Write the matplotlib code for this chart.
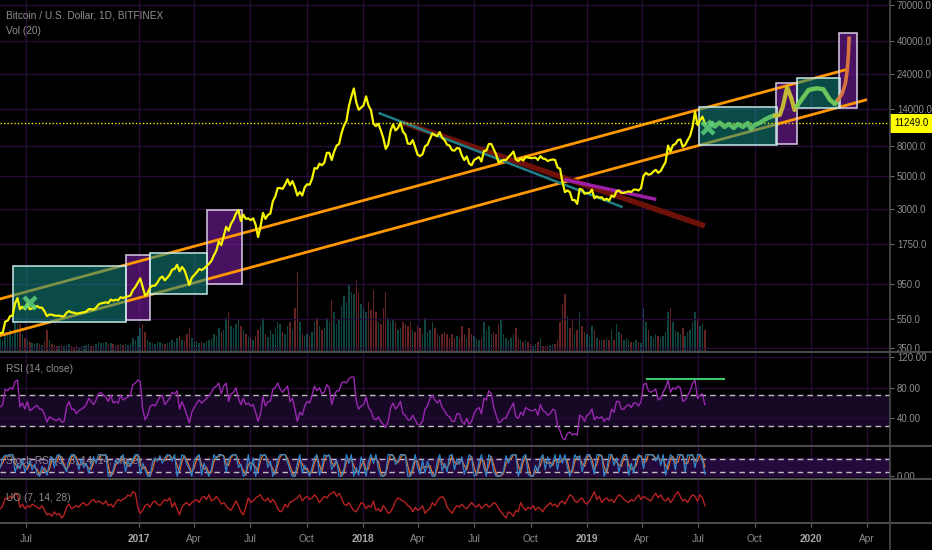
import matplotlib
matplotlib.use("Agg")
import matplotlib.pyplot as plt
import matplotlib.ticker as mticker
import pandas as pd
from matplotlib.lines import Line2D
from matplotlib.patches import Rectangle
import matplotlib.dates as mdates

plt.rcParams['font.family'] = ['Liberation Sans', 'DejaVu Sans']

# ---- series, one sample every 4 days from 2016-05-20 ----
start = '2016-05-20'
price = [
    442, 446, 528,
    536, 575, 580, 700, 760, 640, 665, 640,
    700, 640, 648, 665, 672, 655, 655, 620,
    575, 590, 588, 580, 578, 580, 572,
    575, 605, 622, 608, 607, 597, 601, 606,
    610, 617, 641, 640, 636, 655, 688, 700,
    705, 712, 705, 742, 730, 740, 735,
    770, 760, 772, 780, 790, 860, 900, 960,
    # 2017
    1030, 900, 790, 820, 895, 920, 920, 965,
    1030, 1060, 1000, 1040, 1090, 1180, 1190,
    1270, 1150, 1230, 1170, 1050, 930, 1040,
    1085, 1130, 1190, 1170, 1200, 1245, 1290, 1350,
    1470, 1580, 1820, 1720, 1980, 2280, 2150, 2400,
    2550, 2800, 2950, 2500, 2750, 2580, 2600,
    2530, 2600, 2360, 1950, 2290, 2830, 2580, 2740,
    2800, 3380, 3640, 4150, 4150, 4100, 4380, 4750,
    4350, 4620, 4200, 3700, 3900, 3700, 4200,
    4400, 4370, 4800, 5650, 5600, 6050, 5900, 6150,
    7150, 7150, 6400, 7300, 8000, 8200, 9700,
    10900, 11700, 14700, 17000, 19300, 15600, 13900, 14400,
    # 2018
    14900, 17100, 14800, 13800, 11200, 10800, 11200, 10100,
    9000, 7600, 8100, 10100, 11100, 10100, 10500,
    11400, 9900, 9500, 8250, 8200, 8700, 7800, 6930,
    6800, 7000, 7900, 8100, 8850, 9650, 9400,
    9250, 9850, 9000, 8700, 8100, 8000, 7450, 7400,
    7700, 7650, 6850, 6400, 6750, 6050, 5900,
    6400, 6550, 6700, 6250, 7350, 7400, 8200, 8200,
    7550, 6950, 6150, 6300, 6400, 6400, 6700, 6950,
    7300, 6450, 6300, 6550, 6350, 6700, 6650,
    6600, 6600, 6650, 6400, 6800, 6550, 6500, 6300,
    6400, 6450, 6400, 5700, 5600, 4550, 3900, 4000,
    3900, 3450, 3450, 3250, 4100, 4050, 3800,
    # 2019
    3850, 3850, 4050, 3550, 3650, 3580, 3600, 3450,
    3520, 3420, 3700, 3620, 3950, 4000, 3850,
    3850, 3900, 3950, 3900, 4050, 4050, 4000, 4150,
    5000, 5250, 5100, 5150, 5350, 5500, 5250,
    5400, 5800, 6200, 8000, 7300, 8050, 8200, 8700,
    8800, 7850, 8100, 8700, 9300, 10700, 13500, 11000,
    11800, 12500, 11249,
]
volume = [
    14, 12, 20,
    18, 22, 16, 30, 35, 28, 18, 14,
    12, 10, 9, 8, 9, 8, 7, 10,
    22, 12, 8, 7, 6, 6, 7,
    6, 7, 8, 6, 5, 6, 5, 6,
    6, 7, 8, 6, 6, 8, 10, 9,
    9, 10, 8, 9, 8, 7, 7,
    8, 7, 8, 7, 9, 14, 12, 16,
    24, 28, 20, 12, 10, 9, 8, 10,
    10, 9, 8, 9, 10, 12, 10,
    14, 16, 12, 11, 18, 24, 14,
    10, 11, 9, 10, 9, 11, 12, 14,
    18, 16, 24, 20, 22, 34, 40, 26,
    24, 28, 32, 26, 22, 18, 16,
    14, 12, 16, 22, 26, 34, 18, 15,
    22, 18, 24, 30, 28, 20, 18, 26,
    30, 22, 44, 80, 30, 18, 16,
    18, 16, 20, 30, 34, 26, 22, 24,
    34, 30, 52, 40, 28, 32, 46,
    56, 50, 68, 60, 58, 72, 60, 48,
    44, 40, 50, 42, 62, 40, 30, 28,
    44, 60, 34, 30, 32, 30, 22,
    24, 30, 28, 26, 30, 22, 20, 26,
    24, 18, 34, 20, 22, 30, 24,
    18, 16, 18, 20, 18, 14, 18, 14,
    16, 14, 26, 18, 14, 24, 18,
    16, 14, 12, 14, 30, 22, 26, 18,
    20, 18, 28, 32, 18, 14, 12, 14,
    18, 24, 14, 12, 10, 12, 10,
    8, 6, 8, 10, 14, 6, 6, 6,
    7, 8, 8, 12, 30, 48, 58, 36,
    24, 32, 18, 22, 40, 26, 20,
    18, 16, 26, 22, 14, 12, 12, 12,
    14, 12, 22, 12, 28, 20, 18,
    12, 14, 12, 10, 10, 12, 10, 9,
    44, 30, 22, 16, 14, 18, 16,
    14, 16, 20, 40, 44, 30, 22, 20,
    18, 24, 16, 20, 22, 30, 40, 34,
    26, 28, 22,
]
rsi = [
    55, 58, 78,
    76, 80, 78, 88, 90, 55, 60, 52,
    62, 50, 52, 55, 57, 52, 52, 45,
    35, 42, 40, 38, 37, 40, 35,
    36, 55, 62, 52, 52, 46, 50, 52,
    54, 58, 66, 62, 58, 64, 72, 74,
    70, 68, 62, 70, 60, 62, 60,
    70, 64, 66, 68, 70, 84, 86, 90,
    88, 52, 38, 44, 55, 58, 56, 62,
    68, 70, 58, 62, 66, 74, 72,
    76, 52, 62, 54, 44, 34, 48,
    54, 60, 64, 60, 63, 66, 70, 74,
    80, 82, 86, 72, 82, 86, 62, 72,
    74, 80, 66, 58, 66, 58, 60,
    56, 58, 48, 36, 46, 68, 56, 62,
    62, 78, 80, 86, 78, 74, 78, 82,
    62, 66, 52, 36, 48, 44, 56,
    62, 60, 70, 82, 76, 80, 72, 74,
    84, 80, 58, 70, 76, 76, 86,
    88, 86, 92, 94, 94, 62, 52, 56,
    58, 68, 54, 50, 40, 38, 42, 36,
    32, 28, 36, 54, 60, 52, 56,
    62, 46, 44, 38, 38, 44, 38, 32,
    32, 36, 52, 56, 66, 70, 64,
    60, 64, 54, 50, 44, 42, 36, 36,
    46, 46, 36, 32, 40, 32, 36,
    46, 52, 54, 46, 66, 64, 76, 72,
    54, 44, 34, 36, 40, 40, 48, 54,
    60, 42, 40, 48, 44, 54, 52,
    50, 50, 52, 44, 58, 50, 48, 44,
    46, 52, 50, 30, 24, 14, 12, 20,
    22, 18, 20, 18, 44, 42, 36,
    44, 46, 52, 38, 42, 40, 42, 36,
    40, 38, 52, 48, 62, 62, 52,
    52, 56, 58, 54, 60, 60, 56, 62,
    84, 86, 76, 74, 76, 78, 64,
    66, 74, 80, 90, 74, 80, 78, 82,
    80, 62, 64, 70, 76, 86, 90, 66,
    70, 72, 58,
]
stoch_k = [
    40, 85, 98, 95, 100, 100, 20, 55, 35, 80, 20, 45, 70, 30, 55, 10,
    0, 45, 30, 5, 60, 90, 40, 95, 100, 60, 45, 20, 80, 100, 100, 75,
    30, 80, 40, 60, 15, 50, 90, 60, 100, 100, 95, 100, 0, 0, 30, 75,
    60, 85, 100, 20, 70, 45, 80, 100, 100, 10, 60, 30, 0, 0, 65, 85,
    70, 95, 60, 85, 100, 95, 70, 100, 0, 40, 100, 90, 55, 35, 0, 75,
    90, 100, 5, 60, 25, 0, 35, 100, 80, 100, 100, 90, 20, 80, 95, 100,
    100, 40, 55, 0, 10, 100, 25, 85, 0, 45, 100, 95, 100, 40, 70, 0,
    20, 80, 100, 100, 100, 65, 30, 0, 0, 60, 100, 15, 50, 25, 0, 40,
    85, 100, 5, 40, 100, 90, 100, 30, 60, 75, 0, 0, 35, 100, 60, 100,
    0, 40, 5, 90, 55, 0, 70, 100, 60, 100, 35, 0, 0, 15, 100, 100,
    95, 55, 70, 100, 100, 95, 0, 0, 45, 100, 40, 10, 75, 15, 70, 30,
    0, 0, 70, 100, 25, 60, 20, 95, 100, 30, 80, 55, 90, 10, 50, 100,
    85, 0, 10, 65, 100, 40, 0, 100, 85, 20, 0, 0, 5, 25, 95, 60,
    95, 100, 100, 0, 40, 90, 100, 10, 0, 0, 50, 20, 80, 100, 30, 90,
    40, 60, 100, 30, 100, 60, 100, 40, 0, 35, 100, 80, 95, 20, 70, 100,
    100, 55, 10, 100, 100, 90, 0, 30, 100, 100, 50, 85, 20, 70, 100, 100,
    5, 60, 15, 80, 100, 90, 35, 100, 100, 100, 95, 70, 100, 50, 100, 5,
    60, 100, 85, 30, 100, 100, 95, 20, 100, 95, 100, 40, 100, 100, 75, 10,
]
stoch_d = [
    45, 62, 90, 96, 98, 100, 60, 38, 45, 58, 50, 32, 58, 50, 42, 32,
    5, 22, 38, 18, 32, 75, 65, 68, 98, 80, 52, 32, 50, 90, 100, 88,
    52, 55, 60, 50, 38, 32, 70, 75, 80, 100, 98, 98, 50, 0, 15, 52,
    68, 72, 92, 60, 45, 58, 62, 90, 100, 55, 35, 45, 15, 0, 32, 75,
    78, 82, 78, 72, 92, 98, 82, 85, 50, 20, 70, 95, 72, 45, 18, 38,
    82, 95, 52, 32, 42, 12, 18, 68, 90, 90, 100, 95, 55, 50, 88, 98,
    100, 70, 48, 28, 5, 55, 62, 55, 42, 22, 72, 98, 98, 70, 55, 35,
    10, 50, 90, 100, 100, 82, 48, 15, 0, 30, 80, 58, 32, 38, 12, 20,
    62, 92, 52, 22, 70, 95, 95, 65, 45, 68, 38, 0, 18, 68, 80, 80,
    50, 20, 22, 48, 72, 28, 35, 85, 80, 80, 68, 18, 0, 8, 58, 100,
    98, 75, 62, 85, 100, 98, 48, 0, 22, 72, 70, 25, 42, 45, 42, 50,
    15, 0, 35, 85, 62, 42, 40, 58, 98, 65, 55, 68, 72, 50, 30, 75,
    92, 42, 5, 38, 82, 70, 20, 50, 92, 52, 10, 0, 2, 15, 60, 78,
    78, 98, 100, 50, 20, 65, 95, 55, 5, 0, 25, 35, 50, 90, 65, 60,
    65, 50, 80, 65, 65, 80, 80, 70, 20, 18, 68, 90, 88, 58, 45, 85,
    100, 78, 32, 55, 100, 95, 45, 15, 65, 100, 75, 68, 52, 45, 85, 100,
    52, 32, 38, 48, 90, 95, 62, 68, 100, 100, 98, 82, 85, 75, 75, 52,
    32, 80, 92, 58, 65, 100, 98, 58, 60, 98, 98, 70, 70, 100, 88, 42,
]
uo = [
    48, 52, 62, 60, 64, 62, 68, 66, 50, 54, 48, 52, 50, 54, 52, 50,
    48, 52, 46, 40, 42, 38, 44, 40, 42, 36, 40, 50, 54, 48, 50, 52,
    50, 54, 56, 52, 54, 58, 60, 56, 58, 56, 54, 58, 52, 54, 50, 56,
    60, 58, 60, 62, 66, 64, 70, 68, 50, 42, 46, 52, 54, 50, 56, 58,
    54, 52, 56, 60, 58, 62, 50, 56, 48, 40, 50, 54, 56, 52, 56, 58,
    60, 56, 62, 64, 60, 66, 58, 60, 64, 60, 54, 56, 52, 48, 46, 52,
    58, 52, 44, 40, 50, 62, 56, 58, 62, 64, 66, 60, 58, 62, 56, 60,
    56, 48, 44, 46, 54, 50, 56, 58, 60, 62, 66, 58, 62, 64, 60, 62,
    66, 62, 56, 60, 64, 62, 66, 68, 70, 64, 68, 62, 54, 52, 56, 50,
    46, 44, 50, 56, 54, 48, 52, 50, 58, 46, 48, 44, 52, 48, 42, 44,
    50, 58, 62, 60, 58, 56, 52, 50, 44, 50, 46, 48, 52, 42, 46, 48,
    56, 52, 58, 62, 64, 60, 50, 46, 42, 48, 52, 50, 54, 50, 48, 52,
    56, 52, 50, 54, 48, 52, 54, 50, 52, 56, 54, 48, 44, 40, 36, 44,
    42, 38, 46, 44, 56, 50, 46, 50, 48, 52, 46, 50, 48, 44, 50, 52,
    56, 52, 54, 50, 56, 58, 54, 60, 66, 64, 58, 56, 60, 62, 56, 54,
    58, 64, 70, 60, 64, 56, 60, 62, 58, 60, 56, 62, 66, 64, 60, 58,
    56, 60, 58, 62, 66, 60, 64, 62, 60, 58, 64, 68, 62, 66, 60, 58,
    62, 56, 60, 66, 70, 64, 58, 60, 56, 62, 66, 64, 58, 66, 62, 52,
]

last_price = 11249.0
price_ticks = [350, 550, 950, 1750, 3000, 5000, 8000, 14000, 24000, 40000, 70000]
rsi_ticks = [40, 80, 120]

month_ticks = ['2016-07-01', '2017-01-01', '2017-04-01', '2017-07-01', '2017-10-01',
               '2018-01-01', '2018-04-01', '2018-07-01', '2018-10-01', '2019-01-01',
               '2019-04-01', '2019-07-01', '2019-10-01', '2020-01-01', '2020-04-01']
month_labels = ['Jul', '2017', 'Apr', 'Jul', 'Oct', '2018', 'Apr', 'Jul', 'Oct',
                '2019', 'Apr', 'Jul', 'Oct', '2020', 'Apr']

# ---- drawings on the chart ----
upper_dates = ['2016-05-19', '2020-02-25']
upper_prices = [749, 25670]
lower_dates = ['2016-05-19', '2020-03-30']
lower_prices = [425, 16160]
teal_line_dates = ['2018-01-28', '2019-02-26']
teal_line_prices = [13160, 3113]
red_line_dates = ['2018-03-07', '2019-07-12']
red_line_prices = [11380, 2311]
mag_line_dates = ['2018-11-28', '2019-04-21']
mag_line_prices = [4700, 3505]

teal_box_start = ['2016-06-10', '2017-01-19', '2019-07-03', '2019-12-09']
teal_box_end = ['2016-12-11', '2017-04-22', '2019-11-07', '2020-02-18']
teal_box_low = [528, 809, 8070, 14350]
teal_box_high = [1253, 1517, 14505, 22590]
purple_box_start = ['2016-12-11', '2017-04-21', '2019-11-05', '2020-02-16']
purple_box_end = ['2017-01-19', '2017-06-18', '2019-12-09', '2020-03-16']
purple_box_low = [542, 940, 8195, 14215]
purple_box_high = [1477, 2958, 20910, 45230]

wave_dates = ['2019-07-20', '2019-07-28', '2019-08-05', '2019-08-13', '2019-08-20',
              '2019-08-28', '2019-09-04', '2019-09-12', '2019-09-20', '2019-09-25',
              '2019-10-01', '2019-10-09', '2019-10-18', '2019-10-26', '2019-11-03']
wave_prices = [11420, 10735, 11420, 10650, 11155, 10490, 11155, 10650, 11330, 10325,
               10985, 11330, 11960, 12430, 12720]
spike_dates = ['2019-11-03', '2019-11-11', '2019-11-16', '2019-11-23', '2019-11-30',
               '2019-12-05', '2019-12-09']
spike_prices = [12720, 12815, 14570, 19660, 16590, 13850, 14730]
arch_dates = ['2019-12-09', '2019-12-28', '2020-01-10', '2020-01-21', '2020-02-01',
              '2020-02-09', '2020-02-14']
arch_prices = [14730, 18860, 19360, 19060, 16160, 15190, 16160]
pump_dates = ['2020-02-14', '2020-02-21', '2020-02-26', '2020-02-29', '2020-03-02',
              '2020-03-03']
pump_prices = [16160, 17920, 20910, 25670, 33220, 41870]
cross_dates = ['2016-07-08', '2019-07-17']
cross_prices = [705, 10440]
rsi_top_dates = ['2019-04-08', '2019-08-12']
rsi_top_level = 92

# ---- styling ----
BG = '#000000'
GRID = '#260a38'
TXT = '#8e8e8e'
SEP = '#4a4a4a'
LABEL_SIZE = 6.9

def d(s):
    return pd.to_datetime(s)

def style_right(a):
    a.yaxis.tick_right()
    a.tick_params(axis='y', which='both', left=False, labelleft=False, right=True,
                  labelright=True, colors='#6a6a6a', labelcolor=TXT,
                  labelsize=LABEL_SIZE, length=3, pad=2)

fig = plt.figure(figsize=(9.32, 5.5), dpi=100)
fig.patch.set_facecolor(BG)
W = 890 / 932
ax = fig.add_axes([0, 0.36, W, 0.64])
ax_rsi = fig.add_axes([0, 0.18909, W, 0.17091], sharex=ax)
ax_st = fig.add_axes([0, 0.12855, W, 0.06055], sharex=ax)
ax_uo = fig.add_axes([0, 0.04964, W, 0.07891], sharex=ax)

# volume sits in its own axes behind the price pane
ax_vol = fig.add_axes([0, 0.36, W, 0.64], sharex=ax)
ax_vol.set_zorder(0)
ax.set_zorder(1)
ax.patch.set_visible(False)

for a in (ax, ax_rsi, ax_st, ax_uo, ax_vol):
    a.set_facecolor(BG)
    for s in a.spines.values():
        s.set_visible(False)
    style_right(a)
    a.tick_params(axis='x', which='both', bottom=False, labelbottom=False)

for a in (ax_vol, ax_rsi, ax_st, ax_uo):
    for m in month_ticks:
        a.axvline(d(m), color=GRID, lw=1, zorder=0)

dates = pd.date_range(start, periods=len(price), freq='4D')

vdates = pd.date_range(start, periods=len(volume), freq='4D')
vcolors = ['#26a69a' if i == 0 or price[i] >= price[i - 1] else '#ef5350'
           for i in range(len(volume))]
ax_vol.bar(vdates, volume, width=2.4, color=vcolors, alpha=0.42, linewidth=0, zorder=1)
ax_vol.set_ylim(0, 352)
ax_vol.set_yticks([])

# main pane
ax.set_yscale('log')
ax.set_ylim(330.6, 75630)
ax.yaxis.set_major_locator(mticker.FixedLocator(price_ticks))
ax.yaxis.set_major_formatter(mticker.FixedFormatter([f'{p:.1f}' for p in price_ticks]))
ax.yaxis.set_minor_locator(mticker.NullLocator())
ax.yaxis.set_minor_formatter(mticker.NullFormatter())
for p in price_ticks:
    ax.axhline(p, color=GRID, lw=1, zorder=0)

for s0, s1, lo, hi in zip(purple_box_start, purple_box_end, purple_box_low, purple_box_high):
    x0 = mdates.date2num(d(s0))
    w = mdates.date2num(d(s1)) - x0
    ax.add_patch(Rectangle((x0, lo), w, hi - lo, facecolor='#7b1fa2', alpha=0.6,
                           edgecolor='none', zorder=1))
    ax.add_patch(Rectangle((x0, lo), w, hi - lo, facecolor='none', edgecolor='#d9cce6',
                           lw=1.1, zorder=3.2))

ax.plot(d(upper_dates), upper_prices, color='#ff9800', lw=2, zorder=2)
ax.plot(d(lower_dates), lower_prices, color='#ff9800', lw=2, zorder=2)
ax.plot(d(red_line_dates), red_line_prices, color='#6e1209', lw=4, zorder=2,
        solid_capstyle='butt')
ax.plot(d(teal_line_dates), teal_line_prices, color='#1f7f86', lw=1.8, zorder=2)
ax.plot(d(mag_line_dates), mag_line_prices, color='#9c1fa8', lw=2.5, zorder=2)

for s0, s1, lo, hi in zip(teal_box_start, teal_box_end, teal_box_low, teal_box_high):
    x0 = mdates.date2num(d(s0))
    w = mdates.date2num(d(s1)) - x0
    ax.add_patch(Rectangle((x0, lo), w, hi - lo, facecolor='#138a84', alpha=0.55,
                           edgecolor='none', zorder=3))
    ax.add_patch(Rectangle((x0, lo), w, hi - lo, facecolor='none', edgecolor='#c6e9e6',
                           lw=1.1, zorder=3.2))

ax.axhline(last_price, color='#e8e800', ls=(0, (1, 1.5)), lw=1, zorder=3.5)
ax.plot(dates, price, color='#f5f500', lw=1.6, zorder=4)

ax.plot(d(wave_dates), wave_prices, color='#62c96a', lw=3.2, alpha=0.9, zorder=5)
ax.plot(d(spike_dates), spike_prices, color='#c9c234', lw=3, alpha=0.95, zorder=5)
ax.plot(d(arch_dates), arch_prices, color='#78d35c', lw=3.2, alpha=0.9, zorder=5)
ax.plot(d(pump_dates), pump_prices, color='#e07a40', lw=2.6, alpha=0.95, zorder=5)
ax.plot(d(cross_dates), cross_prices, ls='none', marker='x', ms=8, mew=3.2,
        color='#5fd07a', alpha=0.85, zorder=6)

ax.annotate(f'{last_price:.1f}', xy=(1.0, last_price), xycoords=('axes fraction', 'data'),
            xytext=(3, 0), textcoords='offset points', ha='left', va='center',
            fontsize=LABEL_SIZE, color='black', annotation_clip=False, zorder=10,
            bbox=dict(boxstyle='square,pad=0.45', fc='#ffff00', ec='none'))

ax.set_xlim(pd.Timestamp('2016-05-19 12:00'), pd.Timestamp('2020-05-08 16:00'))

# RSI pane
ax_rsi.axhspan(30, 70, color='#170925', zorder=0)
for v in rsi_ticks:
    ax_rsi.axhline(v, color=GRID, lw=1, zorder=0.5)
for v in (70, 30):
    ax_rsi.axhline(v, color='#bdbdbd', ls=(0, (4, 3)), lw=1, zorder=1)
rdates = pd.date_range(start, periods=len(rsi), freq='4D')
ax_rsi.plot(rdates, rsi, color='#9a27b0', lw=1, zorder=2)
ax_rsi.plot(d(rsi_top_dates), [rsi_top_level] * 2, color='#3ec46d', lw=1.5, zorder=3)
ax_rsi.set_ylim(3.8, 126.7)
ax_rsi.set_yticks(rsi_ticks)
ax_rsi.set_yticklabels([f'{v:.2f}' for v in rsi_ticks])

# Stoch RSI pane
ax_st.axhspan(0, 82, color='#25093d', zorder=0)
for v in (80, 20):
    ax_st.axhline(v, color='#bdbdbd', ls=(0, (4, 3)), lw=1, zorder=1)
sdates = pd.date_range(start, periods=len(stoch_k), freq='4D')
ax_st.plot(sdates, stoch_k, color='#2f86c8', lw=0.9, zorder=3)
ax_st.plot(sdates, stoch_d, color='#e0762e', lw=0.9, zorder=2)
ax_st.set_ylim(-13.8, 139.6)
ax_st.set_yticks([0])
ax_st.set_yticklabels(['0.00'])

# UO pane
udates = pd.date_range(start, periods=len(uo), freq='4D')
ax_uo.plot(udates, uo, color='#b52222', lw=1, zorder=2)
ax_uo.set_ylim(30, 86)
ax_uo.set_yticks([])
ax_uo.tick_params(axis='x', bottom=True, labelbottom=True, colors='#6a6a6a',
                  labelcolor=TXT, labelsize=7.3, length=3, pad=5)
ax_uo.set_xticks([d(m) for m in month_ticks])
ax_uo.set_xticklabels(month_labels)
for t in ax_uo.get_xticklabels():
    if t.get_text().isdigit():
        t.set_fontweight('bold')
        t.set_color('#a8a8a8')

# pane separators and price-scale border
for yy in (0.36, 0.18909, 0.12855, 0.04964):
    fig.add_artist(Line2D([0, 1], [yy, yy], transform=fig.transFigure, color=SEP, lw=1.5))
fig.add_artist(Line2D([W, W], [0, 1], transform=fig.transFigure, color=SEP, lw=1.2))

# pane captions
fig.text(6 / 932, 1 - 15 / 550, 'Bitcoin / U.S. Dollar, 1D, BITFINEX', color=TXT,
         fontsize=7.3, va='center', ha='left')
fig.text(6 / 932, 1 - 31 / 550, 'Vol (20)', color=TXT, fontsize=7.3, va='center', ha='left')
fig.text(6 / 932, 1 - 369 / 550, 'RSI (14, close)', color=TXT, fontsize=7.3, va='center')
ax_st.text(6 / 890, 0.55, 'Stoch RSI (3, 3, 14, 14, close)', transform=ax_st.transAxes,
           color=TXT, fontsize=7.3, va='center', zorder=1.5)
fig.text(6 / 932, 1 - 498 / 550, 'UO (7, 14, 28)', color=TXT, fontsize=7.3, va='center')

fig.savefig('out.png', dpi=100, facecolor=BG)
